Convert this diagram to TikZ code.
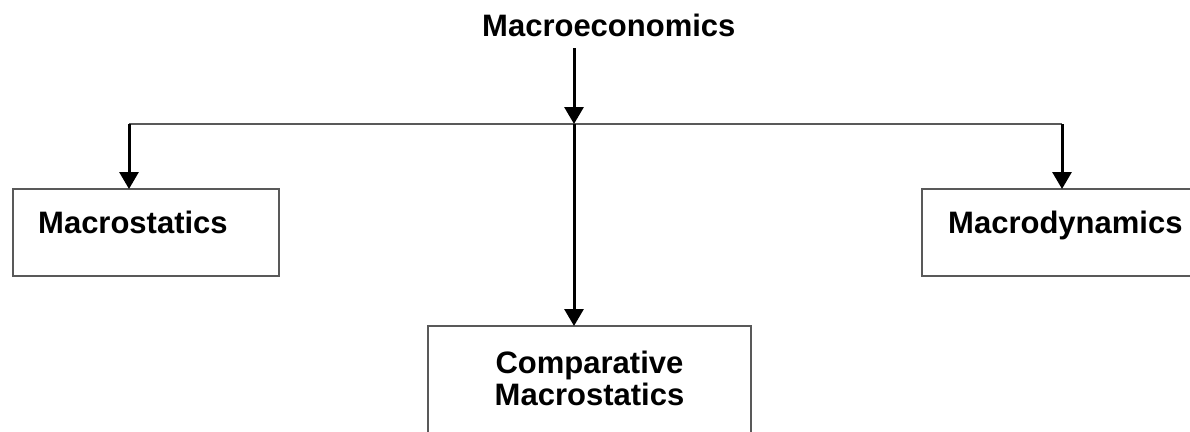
\documentclass[tikz,border=0pt]{standalone}
\usepackage{fontspec}
\setmainfont{Liberation Sans}
\usetikzlibrary{arrows.meta}
\begin{document}
\begin{tikzpicture}[x=1pt,y=-1pt,
  lbl/.style={font=\fontsize{31}{32}\selectfont\bfseries, inner sep=0pt, anchor=base west},
  box/.style={draw=black!65, line width=1.2pt, inner sep=0pt, outer sep=0pt, anchor=north west},
  arr/.style={draw=black, line width=3pt, -{Triangle[width=19pt,length=17pt]}},
  bar/.style={draw=black!65, line width=1.2pt}]
\useasboundingbox (0,0) rectangle (1190,431);
\clip (0,0) rectangle (1190,431);
% boxes
\node[box, minimum width=266pt, minimum height=87pt] (bs) at (13,189) {};
\node[box, minimum width=300pt, minimum height=87pt] (bd) at (922,189) {};
\node[box, minimum width=323pt, minimum height=150pt] (bc) at (428,326) {};
% labels
\node[lbl] (t0) at (482,36) {Macroeconomics};
\node[lbl] (ts) at (38,233) {Macrostatics};
\node[lbl] (td) at (948,233) {Macrodynamics};
\node[lbl, anchor=base, align=center] (tc) at (589.5,405) {Comparative\\Macrostatics};
% connectors
\coordinate (top) at (574,48);
\coordinate (jc) at (574,124);
\coordinate (jl) at (129,124);
\coordinate (jr) at (1062,124);
\draw[bar] (jl) -- (jr);
\draw[arr] (top) -- (jc);
\draw[arr] (jl) -- (jl |- bs.north);
\draw[arr] (jr) -- (jr |- bd.north);
\draw[arr] (jc) -- (jc |- bc.north);
\end{tikzpicture}
\end{document}
